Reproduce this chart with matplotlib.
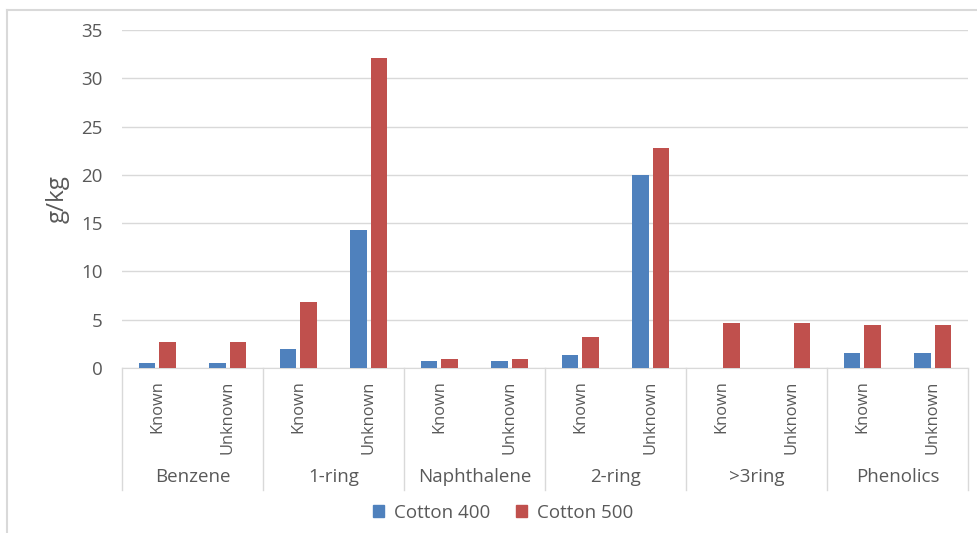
import numpy as np
import matplotlib
matplotlib.use("Agg")
import matplotlib.pyplot as plt
from matplotlib.patches import Patch
from matplotlib.lines import Line2D

groups = ["Benzene", "1-ring", "Naphthalene", "2-ring", ">3ring", "Phenolics"]
subs = ["Known", "Unknown"]
cotton400 = [0.5, 0.5, 2.0, 14.3, 0.7, 0.7, 1.3, 20.0, 0.0, 0.0, 1.6, 1.6]
cotton500 = [2.7, 2.7, 6.8, 32.1, 0.9, 0.9, 3.2, 22.8, 4.65, 4.65, 4.5, 4.5]
series_names = ["Cotton 400", "Cotton 500"]

BLUE = "#4f81bd"
RED = "#c0504d"
GRID = "#d9d9d9"
TXT = "#595959"

plt.rcParams['font.family'] = ['Open Sans', 'DejaVu Sans']

W, H = 977, 533
fig = plt.figure(figsize=(W / 100, H / 100), dpi=100)
# plot area in pixels: left 122, right 968, top 30, bottom 368
ax = fig.add_axes([122 / W, (H - 368) / H, 846 / W, 338 / H])

n = len(cotton400)
x = np.arange(n) + 0.5
bw = 0.23
gap = 0.06
ax.bar(x - (bw + gap) / 2, cotton400, bw, color=BLUE, zorder=3)
ax.bar(x + (bw + gap) / 2, cotton500, bw, color=RED, zorder=3)

ax.set_xlim(0, n)
ax.set_ylim(0, 35)
ax.set_yticks(np.arange(0, 36, 5))
ax.yaxis.grid(True, color=GRID, linewidth=1, zorder=0)
ax.tick_params(axis='y', length=0, labelsize=13.5, labelcolor=TXT, pad=14)
ax.set_xticks([])
for s in ["top", "right", "left"]:
    ax.spines[s].set_visible(False)
ax.spines["bottom"].set_color(GRID)
ax.set_ylabel("g/kg", fontsize=17.5, color=TXT, labelpad=8)

tr = ax.get_xaxis_transform()
for i in range(n):
    ax.text(x[i], -0.036, subs[i % 2], rotation=90, ha="center", va="top",
            fontsize=11.8, color=TXT, transform=tr, clip_on=False)
for g, name in enumerate(groups):
    ax.text(2 * g + 1, -0.322, name, ha="center", va="center",
            fontsize=13.5, color=TXT, transform=tr, clip_on=False)
for b in range(len(groups) + 1):
    ax.add_line(Line2D([2 * b, 2 * b], [0, -0.36], transform=tr,
                       color=GRID, linewidth=1, clip_on=False))

handles = [Patch(color=BLUE), Patch(color=RED)]
fig.legend(handles, series_names, loc="center", bbox_to_anchor=(503 / W, 1 - 513 / H),
           ncol=2, frameon=False, fontsize=13.5, handlelength=0.6, handleheight=0.6,
           columnspacing=1.4, handletextpad=0.5, labelcolor=TXT)

# chart border
fig.add_artist(Line2D([7 / W, 7 / W], [0, 1 - 10 / H], transform=fig.transFigure,
                      color=GRID, linewidth=1.5))
fig.add_artist(Line2D([7 / W, 1], [1 - 10 / H, 1 - 10 / H], transform=fig.transFigure,
                      color=GRID, linewidth=1.5))

fig.savefig("out.png", dpi=100)
